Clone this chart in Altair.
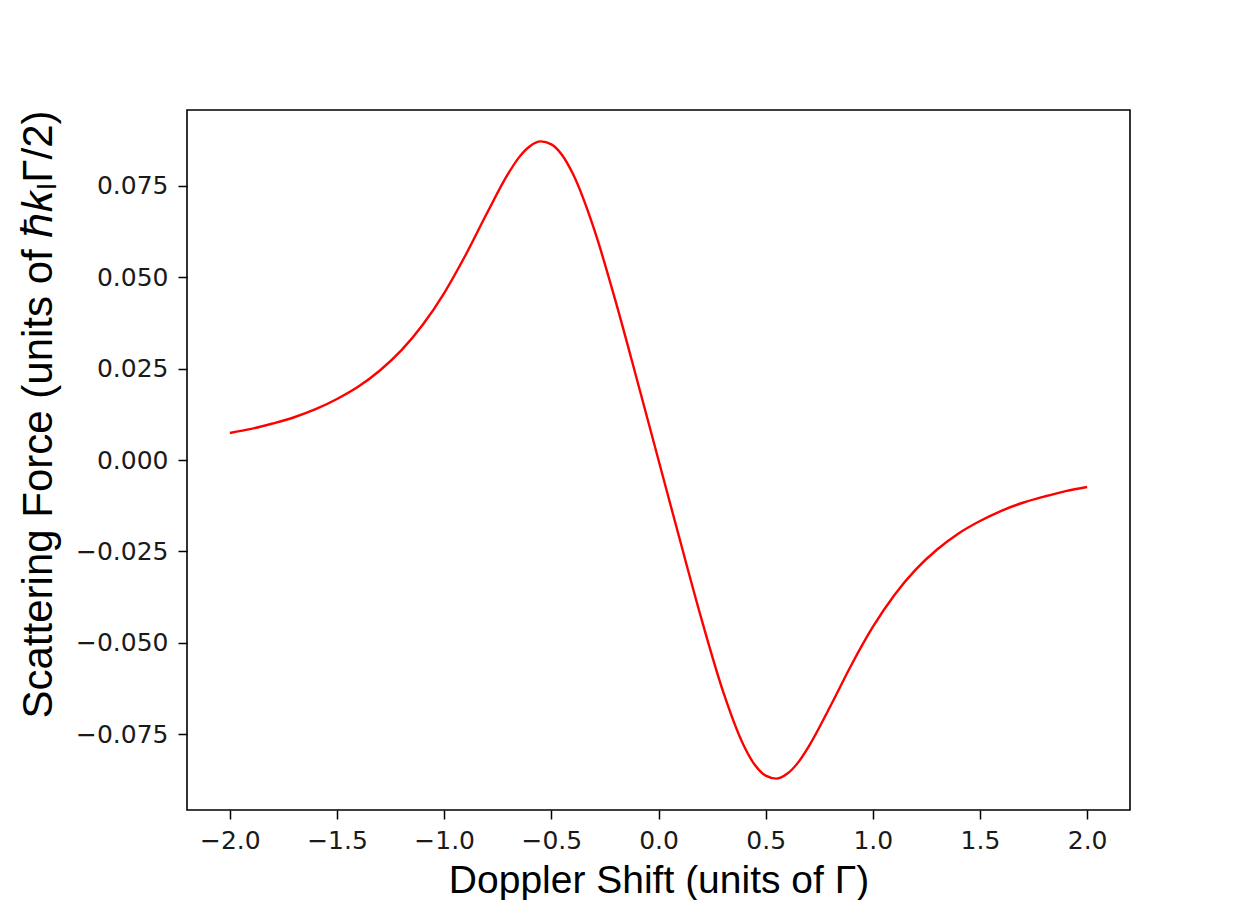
import altair as alt
import pandas as pd

# Doppler shift (units of Gamma) and scattering force
doppler = [-2.0, -1.9, -1.8, -1.7, -1.6, -1.5, -1.4, -1.3, -1.2, -1.1, -1.0,
           -0.9, -0.8, -0.7, -0.65, -0.6, -0.55, -0.5, -0.45, -0.4, -0.3,
           -0.2, -0.1, 0.0, 0.1, 0.2, 0.3, 0.4, 0.45, 0.5, 0.55, 0.6, 0.65,
           0.7, 0.8, 0.9, 1.0, 1.1, 1.2, 1.3, 1.4, 1.5, 1.6, 1.7, 1.8, 1.9, 2.0]
force = [0.0074, 0.0085, 0.0100, 0.0117, 0.0139, 0.0167, 0.0201, 0.0245,
         0.0300, 0.0370, 0.0457, 0.0561, 0.0676, 0.0785, 0.0829, 0.0859,
         0.0872, 0.0864, 0.0835, 0.0784, 0.0631, 0.0434, 0.0219, 0.0,
         -0.0219, -0.0434, -0.0631, -0.0784, -0.0835, -0.0864, -0.0872,
         -0.0859, -0.0829, -0.0785, -0.0676, -0.0561, -0.0457, -0.0370,
         -0.0300, -0.0245, -0.0201, -0.0167, -0.0139, -0.0117, -0.0100,
         -0.0085, -0.0074]

x_ticks = [-2.0, -1.5, -1.0, -0.5, 0.0, 0.5, 1.0, 1.5, 2.0]
y_ticks = [-0.075, -0.050, -0.025, 0.0, 0.025, 0.050, 0.075]

df = pd.DataFrame({"doppler": doppler, "force": force})

x_axis = alt.Axis(
    values=x_ticks, format=".1f", grid=False, domain=False,
    tickSize=9, tickWidth=1.5, tickColor="black",
    labelFont="DejaVu Sans", labelFontSize=25, labelColor="#1a1a1a",
    labelPadding=9,
    title="Doppler Shift (units of Γ)",
    titleFont="Liberation Sans", titleFontSize=39, titleFontWeight="normal",
    titleColor="black", titleBaseline="alphabetic", titleY=82,
)
y_axis = alt.Axis(
    values=y_ticks, format=".3f", grid=False, domain=False,
    tickSize=9, tickWidth=1.5, tickColor="black",
    labelFont="DejaVu Sans", labelFontSize=25, labelColor="#1a1a1a",
    labelPadding=10,
    title="Scattering Force (units of ℏ𝑘ₗΓ/2)",
    titleFont="Liberation Sans", titleFontSize=42, titleFontWeight="normal",
    titleColor="black", titleBaseline="alphabetic", titleAngle=270,
    titleX=-136, titleY=304, titleAlign="center",
)

chart = alt.Chart(df).mark_line(
    color="#ff0000", strokeWidth=2.4, interpolate="monotone"
).encode(
    x=alt.X("doppler:Q", scale=alt.Scale(domain=[-2.2, 2.2], nice=False, zero=False), axis=x_axis),
    y=alt.Y("force:Q", scale=alt.Scale(domain=[-0.0958, 0.0958], nice=False, zero=False), axis=y_axis),
).properties(
    width=943, height=700,
    autosize=alt.AutoSizeParams(type="none"),
    padding={"left": 179, "top": 102, "right": 100, "bottom": 90},
).configure_view(
    stroke="black", strokeWidth=1.6
)

chart.save("out.html", embed_options={"renderer": "svg", "actions": False})
